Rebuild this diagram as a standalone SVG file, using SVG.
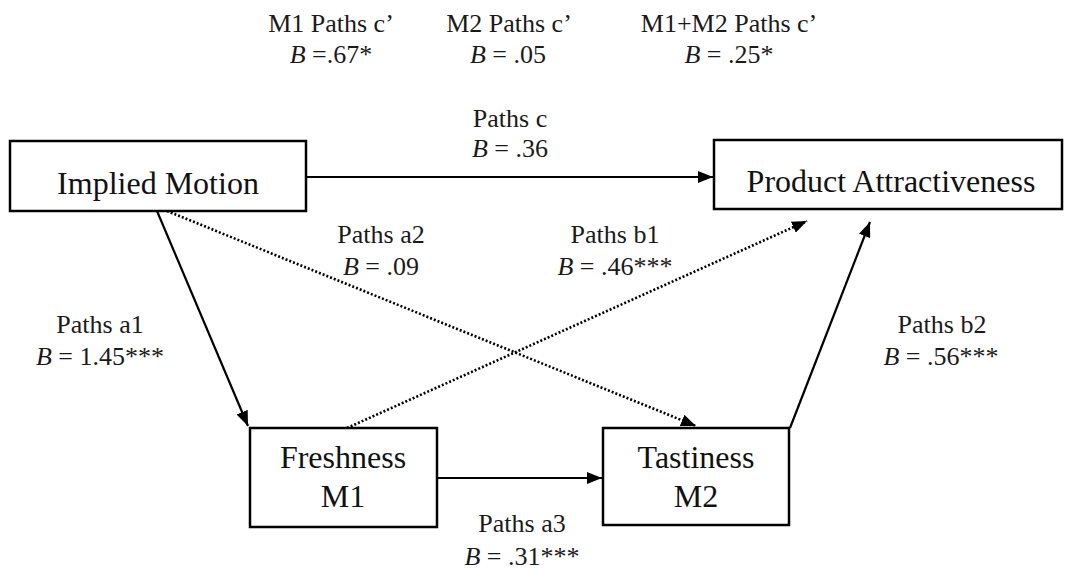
<svg xmlns="http://www.w3.org/2000/svg" width="1065" height="572" viewBox="0 0 1065 572">
<style>
.box{fill:#fff;stroke:#000;stroke-width:2.5}
.nt{font-family:'Liberation Serif',serif;font-size:32px;fill:#111;text-anchor:middle}
.lb{font-family:'Liberation Serif',serif;font-size:26px;fill:#1a1a1a;text-anchor:middle}
.ln{stroke:#000;stroke-width:2.2;fill:none}
.dt{stroke:#000;stroke-width:2.6;fill:none;stroke-dasharray:2 2}
</style>
<defs>
<marker id="ah" markerUnits="userSpaceOnUse" markerWidth="16" markerHeight="12" refX="15" refY="6" orient="auto">
<path d="M0,0 L15,6 L0,12 z" fill="#000"/>
</marker>
</defs>
<rect width="1065" height="572" fill="#fff"/>
<g id="connectors">
<line class="ln" x1="306" y1="177" x2="713" y2="177" marker-end="url(#ah)"/>
<line class="ln" x1="157" y1="211" x2="248" y2="426" marker-end="url(#ah)"/>
<line class="dt" x1="167" y1="211" x2="696" y2="426" marker-end="url(#ah)"/>
<line class="dt" x1="347" y1="428" x2="807" y2="221" marker-end="url(#ah)"/>
<line class="ln" x1="790" y1="428" x2="870" y2="222" marker-end="url(#ah)"/>
<line class="ln" x1="437" y1="478" x2="602" y2="478" marker-end="url(#ah)"/>
</g>
<g id="implied-motion">
<rect class="box" x="10" y="141" width="296" height="70"/>
<text class="nt" x="158" y="194">Implied Motion</text>
</g>
<g id="product-attractiveness">
<rect class="box" x="714" y="140" width="348" height="69"/>
<text class="nt" x="891" y="192">Product Attractiveness</text>
</g>
<g id="freshness">
<rect class="box" x="250" y="428" width="187" height="99"/>
<text class="nt" x="343" y="468">Freshness</text>
<text class="nt" x="343" y="507">M1</text>
</g>
<g id="tastiness">
<rect class="box" x="603" y="428" width="186" height="97"/>
<text class="nt" x="696" y="468">Tastiness</text>
<text class="nt" x="696" y="507">M2</text>
</g>
<g id="labels">
<text class="lb" x="331" y="32">M1 Paths c’</text>
<text class="lb" x="331" y="63"><tspan font-style="italic">B</tspan> =.67*</text>
<text class="lb" x="509" y="32">M2 Paths c’</text>
<text class="lb" x="508" y="63"><tspan font-style="italic">B</tspan> = .05</text>
<text class="lb" x="729" y="32">M1+M2 Paths c’</text>
<text class="lb" x="729" y="63"><tspan font-style="italic">B</tspan> = .25*</text>
<text class="lb" x="510" y="127">Paths c</text>
<text class="lb" x="510" y="157"><tspan font-style="italic">B</tspan> = .36</text>
<text class="lb" x="381" y="243">Paths a2</text>
<text class="lb" x="381" y="275"><tspan font-style="italic">B</tspan> = .09</text>
<text class="lb" x="615" y="243">Paths b1</text>
<text class="lb" x="615" y="275"><tspan font-style="italic">B</tspan> = .46***</text>
<text class="lb" x="100" y="333">Paths a1</text>
<text class="lb" x="100" y="365"><tspan font-style="italic">B</tspan> = 1.45***</text>
<text class="lb" x="942" y="333">Paths b2</text>
<text class="lb" x="941" y="365"><tspan font-style="italic">B</tspan> = .56***</text>
<text class="lb" x="522" y="532">Paths a3</text>
<text class="lb" x="522" y="565"><tspan font-style="italic">B</tspan> = .31***</text>
</g>
</svg>
